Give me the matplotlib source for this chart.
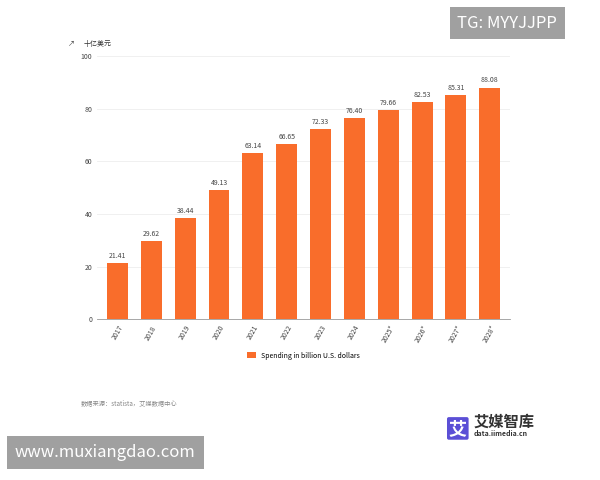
import matplotlib.pyplot as plt

plt.rcParams['font.family'] = ['Noto Sans CJK SC', 'DejaVu Sans']

years = ['2017', '2018', '2019', '2020', '2021', '2022', '2023', '2024',
         '2025*', '2026*', '2027*', '2028*']
spending = [21.41, 29.62, 38.44, 49.13, 63.14, 66.65, 72.33, 76.40,
            79.66, 82.53, 85.31, 88.08]
bar_color = '#f96d2b'

fig = plt.figure(figsize=(6, 4.8), dpi=100)
ax = fig.add_axes([0.162, 0.335, 0.688, 0.548])

x = range(len(years))
ax.bar(x, spending, width=0.62, color=bar_color,
       label='Spending in billion U.S. dollars')
for xi, v in zip(x, spending):
    ax.text(xi, v + 1.2, f'{v:.2f}', ha='center', va='bottom', fontsize=5, color='#444444')

ax.set_xlim(-0.6, len(years) - 0.4)
ax.set_ylim(0, 100)
ax.set_yticks([0, 20, 40, 60, 80, 100])
ax.tick_params(axis='y', length=0, labelsize=5, colors='#444444')
ax.set_xticks(list(x))
ax.set_xticklabels(years, rotation=60, fontsize=5, color='#444444')
ax.tick_params(axis='x', length=0)
ax.grid(axis='y', color='#eeeeee', linewidth=0.6)
ax.set_axisbelow(True)
for s in ['top', 'right', 'left']:
    ax.spines[s].set_visible(False)
ax.spines['bottom'].set_color('#999999')
ax.spines['bottom'].set_linewidth(0.6)

ax.legend(loc='upper center', bbox_to_anchor=(0.5, -0.1), frameon=False,
          fontsize=5, handlelength=1.2, handleheight=1.0)

fig.text(0.113, 0.905, '↗', fontsize=5, color='#444444')
fig.text(0.14, 0.905, '十亿美元', fontsize=5, color='#333333')
fig.text(0.135, 0.155, '数据来源：statista，艾媒数据中心', fontsize=4.5, color='#888888')
fig.text(0.79, 0.112, '艾媒智库', fontsize=11, fontweight='bold', color='#333333')
fig.text(0.79, 0.092, 'data.iimedia.cn', fontsize=5, fontweight='bold', color='#333333')
fig.text(0.748, 0.096, '艾', fontsize=13, fontweight='bold', color='white',
         bbox=dict(boxstyle='round,pad=0.1', fc='#5b4fd6', ec='none'))

fig.text(0.762, 0.942, 'TG: MYYJJPP', fontsize=12, color='white',
         bbox=dict(boxstyle='square,pad=0.45', fc='#a0a0a0', ec='none'))
fig.text(0.025, 0.048, 'www.muxiangdao.com', fontsize=12, color='white',
         bbox=dict(boxstyle='square,pad=0.5', fc='#a0a0a0', ec='none'))

fig.savefig('out.png', dpi=100)
